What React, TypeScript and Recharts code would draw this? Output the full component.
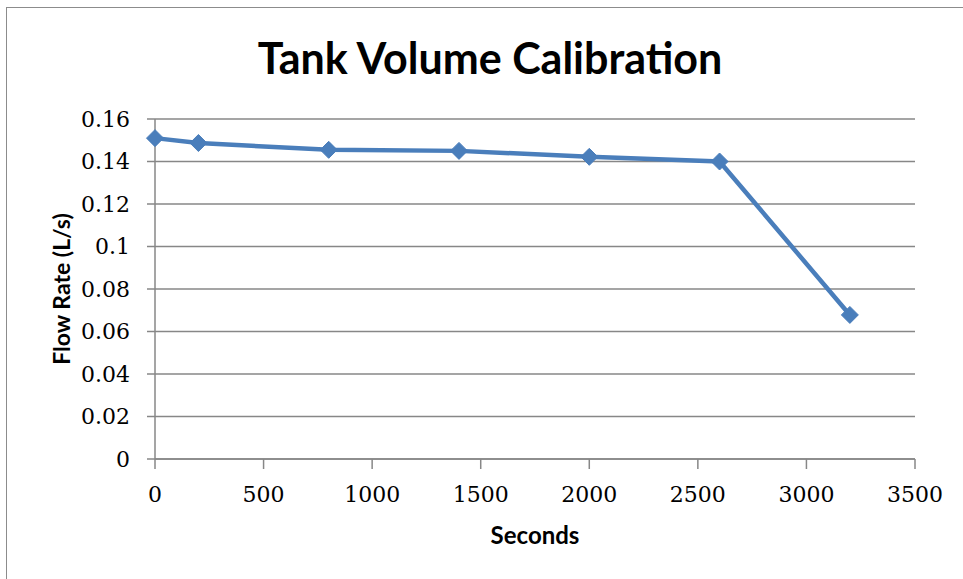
import { LineChart, Line, XAxis, YAxis, CartesianGrid, Label } from "recharts";

const seconds = [0, 200, 800, 1400, 2000, 2600, 3200];
const flowRate = [0.151, 0.1487, 0.1455, 0.145, 0.1422, 0.14, 0.0678];
const xTicks = [0, 500, 1000, 1500, 2000, 2500, 3000, 3500];
const yTicks = [0, 0.02, 0.04, 0.06, 0.08, 0.1, 0.12, 0.14, 0.16];

const data = seconds.map((s, i) => ({ s, rate: flowRate[i] }));

const BLUE = "#4A7EBB";
const GRID = "#878787";
const tickFont = { fontFamily: "DejaVu Serif", fontSize: 22, fill: "#000" };

function Diamond(props: any) {
  const { cx, cy } = props;
  if (cx == null || cy == null) return null;
  const r = 8.5;
  return (
    <polygon
      points={`${cx},${cy - r} ${cx + r},${cy} ${cx},${cy + r} ${cx - r},${cy}`}
      fill={BLUE}
      stroke={BLUE}
    />
  );
}

export default function App() {
  return (
    <div style={{ position: "absolute", left: 0, top: 0, width: 963, height: 579, background: "#fff" }}>
      {/* chart frame, only top and left edges are in view */}
      <div
        style={{
          position: "absolute",
          left: 6,
          top: 7,
          width: 970,
          height: 590,
          borderLeft: "1px solid #8c8c8c",
          borderTop: "1px solid #8c8c8c",
        }}
      />
      <div
        style={{
          position: "absolute",
          left: 0,
          top: 32,
          width: 980,
          textAlign: "center",
          fontFamily: "Lato",
          fontWeight: 700,
          fontSize: 43,
          color: "#000",
          lineHeight: "52px",
        }}
      >
        Tank Volume Calibration
      </div>
      <LineChart
        width={963}
        height={579}
        data={data}
        margin={{ top: 119, right: 48, bottom: 0, left: 0 }}
        style={{ position: "absolute", left: 0, top: 0 }}
      >
        <CartesianGrid stroke={GRID} strokeWidth={1.5} vertical={false} />
        <XAxis
          dataKey="s"
          type="number"
          domain={[0, 3500]}
          ticks={xTicks}
          height={120}
          stroke={GRID}
          strokeWidth={1.5}
          tickSize={10}
          tickMargin={17}
          tick={tickFont}
          interval={0}
        >
          <Label
            value="Seconds"
            position="insideBottom"
            offset={35}
            style={{ fontFamily: "Lato", fontWeight: 700, fontSize: 24, fill: "#000" }}
          />
        </XAxis>
        <YAxis
          type="number"
          domain={[0, 0.16]}
          ticks={yTicks}
          width={155}
          stroke={GRID}
          strokeWidth={1.5}
          tickSize={8}
          tickMargin={17}
          tick={tickFont}
          tickFormatter={(v: number) => String(v)}
          interval={0}
        >
          <Label
            value="Flow Rate (L/s)"
            angle={-90}
            position="insideLeft"
            offset={62}
            style={{ textAnchor: "middle", fontFamily: "Lato", fontWeight: 700, fontSize: 23, fill: "#000" }}
          />
        </YAxis>
        <Line
          type="linear"
          dataKey="rate"
          stroke={BLUE}
          strokeWidth={4.5}
          dot={<Diamond />}
          activeDot={false}
          isAnimationActive={false}
        />
      </LineChart>
    </div>
  );
}
